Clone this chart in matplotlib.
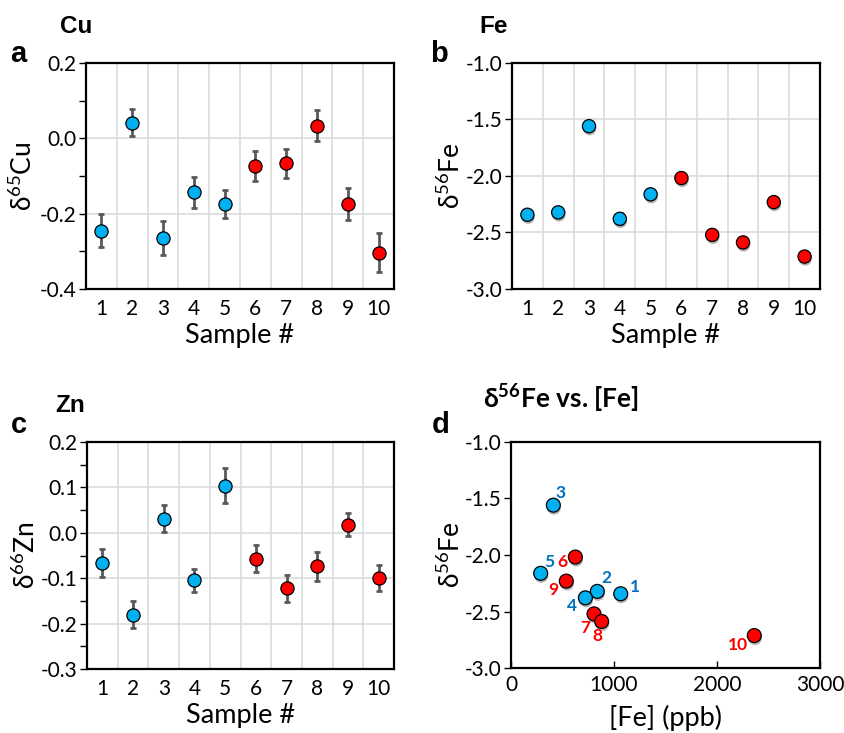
import matplotlib
matplotlib.use('Agg')
import matplotlib.pyplot as plt
import matplotlib.patheffects as pe
from matplotlib.ticker import MultipleLocator, FixedLocator, FormatStrFormatter

# ---------------- data ----------------
samples = [1, 2, 3, 4, 5, 6, 7, 8, 9, 10]
is_red = [False, False, False, False, False, True, True, True, True, True]

cu = [-0.245, 0.042, -0.265, -0.143, -0.174, -0.073, -0.066, 0.034, -0.174, -0.304]
cu_err = [0.043, 0.037, 0.045, 0.041, 0.038, 0.039, 0.039, 0.042, 0.043, 0.052]

fe = [-2.343, -2.322, -1.559, -2.379, -2.162, -2.018, -2.521, -2.588, -2.231, -2.713]
fe_err = [0.03, 0.03, 0.03, 0.05, 0.03, 0.03, 0.03, 0.03, 0.03, 0.03]

zn = [-0.066, -0.180, 0.031, -0.105, 0.104, -0.057, -0.122, -0.074, 0.018, -0.100]
zn_err = [0.031, 0.029, 0.030, 0.026, 0.038, 0.030, 0.030, 0.032, 0.026, 0.028]

fe_conc = [1065, 838, 411, 722, 288, 625, 806, 880, 537, 2362]

# label offsets (pixels) for panel d number labels
lab_dx = [14, 9, 7, -13, 9, -13, -9, -4, -13, -16]
lab_dy = [7, 13, 12, -8, 11, -5, -14, -15, -9, -9]

BLUE = '#00B0F0'
RED = '#FF0000'
LBLUE = '#0070C0'
GRID = '#D9D9D9'
ECOL = '#595959'

plt.rcParams['font.family'] = ['Lato', 'DejaVu Sans']
plt.rcParams['mathtext.default'] = 'regular'

W, H = 844, 733
fig = plt.figure(figsize=(W / 100, H / 100), dpi=100)


def rect(x0, y0, x1, y1):
    return [x0 / W, 1 - y1 / H, (x1 - x0) / W, (y1 - y0) / H]


def ftext(x, y, s, **kw):
    fig.text(x / W, 1 - y / H, s, va='baseline', ha='left', **kw)


colors = [RED if r else BLUE for r in is_red]
shadow = [pe.SimplePatchShadow(offset=(0.5, -1.8), shadow_rgbFace='#7f7f7f', alpha=0.6), pe.Normal()]


def style_spines(ax):
    for s in ax.spines.values():
        s.set_linewidth(1.6)
        s.set_color('black')


def cat_panel(ax, vals, errs, ylim, major, minor, ylabel, label_x, with_shadow=False, show_err=True):
    ax.set_xlim(0.5, 10.5)
    ax.set_ylim(*ylim)
    ax.xaxis.set_major_locator(FixedLocator(samples))
    ax.set_xticklabels([str(s) for s in samples])
    ax.xaxis.set_minor_locator(FixedLocator([s + 0.5 for s in samples[:-1]]))
    ax.yaxis.set_major_locator(MultipleLocator(major))
    ax.yaxis.set_major_formatter(FormatStrFormatter('%.1f'))
    if minor:
        ax.yaxis.set_minor_locator(MultipleLocator(minor))
    ax.grid(axis='x', which='minor', color=GRID, lw=1.1)
    ax.grid(axis='y', which='major', color=GRID, lw=1.1)
    ax.set_axisbelow(True)
    ax.tick_params(axis='x', which='both', length=0, pad=7, labelsize=15)
    ax.tick_params(axis='y', which='both', direction='out', length=5, width=1, labelsize=15, pad=2)
    style_spines(ax)
    if show_err:
        ax.errorbar(samples, vals, yerr=errs, fmt='none', ecolor=ECOL, elinewidth=2,
                    capsize=2.5, capthick=2, zorder=2)
    for x, y, c in zip(samples, vals, colors):
        ax.plot([x], [y], 'o', ms=9.5, mfc=c, mec='black', mew=0.9, zorder=3,
                path_effects=shadow if with_shadow else None)
    ax.set_xlabel('Sample #', fontsize=19.5)
    ax.xaxis.set_label_coords(0.5, -0.15)
    ax.set_ylabel(ylabel, fontsize=19)
    ax.yaxis.set_label_coords(label_x, 0.5)


# panel a: Cu
axa = fig.add_axes(rect(86, 63, 394, 289))
cat_panel(axa, cu, cu_err, (-0.4, 0.2), 0.2, 0.1, 'δ$^{65}$Cu', -0.16)

# panel b: Fe
axb = fig.add_axes(rect(512, 63, 820, 289))
cat_panel(axb, fe, fe_err, (-3.0, -1.0), 0.5, None, 'δ$^{56}$Fe', -0.153,
          with_shadow=True, show_err=True)

# panel c: Zn
axc = fig.add_axes(rect(87, 442, 394, 669))
cat_panel(axc, zn, zn_err, (-0.3, 0.2), 0.1, 0.05, 'δ$^{66}$Zn', -0.153)

# panel d: d56Fe vs [Fe]
axd = fig.add_axes(rect(511, 442, 820, 668))
axd.set_xlim(0, 3000)
axd.set_ylim(-3.0, -1.0)
axd.xaxis.set_major_locator(MultipleLocator(1000))
axd.yaxis.set_major_locator(MultipleLocator(0.5))
axd.yaxis.set_major_formatter(FormatStrFormatter('%.1f'))
axd.tick_params(axis='x', direction='in', length=5, width=1, labelsize=15, pad=5)
axd.tick_params(axis='y', direction='out', length=5, width=1, labelsize=15, pad=2)
style_spines(axd)
axd.errorbar(fe_conc, fe, yerr=fe_err, fmt='none', ecolor='#a6a6a6', elinewidth=1.2,
             capsize=2, capthick=1.2, zorder=2)
for x, y, c, s, r, dx, dy in zip(fe_conc, fe, colors, samples, is_red, lab_dx, lab_dy):
    axd.plot([x], [y], 'o', ms=10, mfc=c, mec='black', mew=0.9, zorder=3, path_effects=shadow)
    axd.annotate(str(s), (x, y), xytext=(dx, dy), textcoords='offset pixels',
                 ha='center', va='center', fontsize=12.5, fontweight='bold',
                 color=RED if r else LBLUE, zorder=4)
axd.set_xlabel('[Fe] (ppb)', fontsize=19.5)
axd.xaxis.set_label_coords(0.5, -0.163)
axd.set_ylabel('δ$^{56}$Fe', fontsize=19)
axd.yaxis.set_label_coords(-0.149, 0.5)

# titles and panel letters
ARIAL = ['Liberation Sans', 'DejaVu Sans']
ftext(60, 33, 'Cu', fontsize=17.5, fontweight='bold', family=ARIAL)
ftext(10, 62, 'a', fontsize=21, fontweight='bold', family=ARIAL)
ftext(479, 33, 'Fe', fontsize=17.5, fontweight='bold', family=ARIAL)
ftext(430, 62, 'b', fontsize=21, fontweight='bold', family=ARIAL)
ftext(55, 412, 'Zn', fontsize=17.5, fontweight='bold', family=ARIAL)
ftext(11, 433, 'c', fontsize=21, fontweight='bold', family=ARIAL)
ftext(483, 408, 'δ$^{56}$Fe vs. [Fe]', fontsize=19, fontweight='bold')
ftext(432, 433, 'd', fontsize=21, fontweight='bold', family=ARIAL)

fig.savefig('out.png', dpi=100)
